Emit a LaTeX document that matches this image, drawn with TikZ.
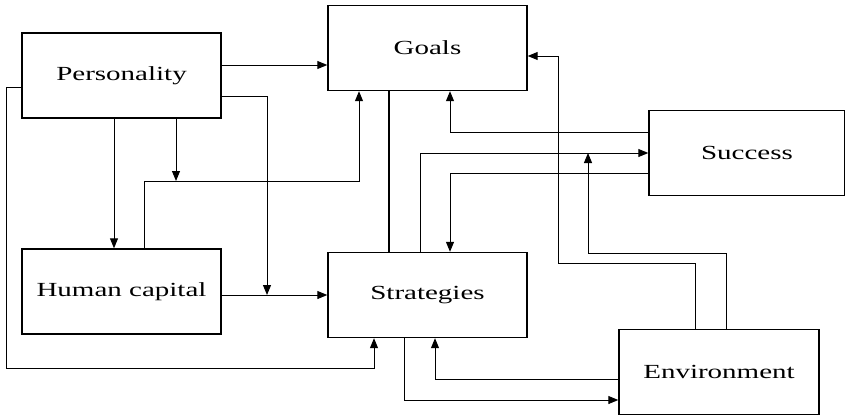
\documentclass[tikz,border=0pt]{standalone}
\usepackage{fontspec}
\setmainfont{Liberation Serif}[FakeStretch=1.45]
\usetikzlibrary{arrows.meta, positioning, calc}

\begin{document}
\begin{tikzpicture}[
  x=1pt, y=-1pt,
  box/.style={draw, line width=1.4pt, minimum width=199pt, minimum height=85pt,
              inner sep=0pt, font=\fontsize{20}{24}\selectfont},
  arr/.style={-{Triangle[length=10pt,width=8pt]}, line width=1pt},
  link/.style={line width=1.8pt}
]
\useasboundingbox (0,0) rectangle (845,415);
\node[box] (pers) at (121.5,75.5) {Personality};
\node[box] (goals) at (427.5,48) {Goals};
\node[box, minimum width=196pt] (succ) at (747,153) {Success};
\node[box] (hcap) at (121.5,291.5) {Human capital};
\node[box] (strat) at (427.5,295) {Strategies};
\node[box, minimum width=200pt] (env) at (719,372) {Environment};
% junctions on other connectors
\coordinate (jhg) at (176,181);
\coordinate (jhs) at (267,295);
\coordinate (jss) at (588,153);
% personality
\draw[arr] (pers.east |- 0,65) -- (goals.west |- 0,65);
\draw[arr] (pers.west |- 0,87) -- (6,87) -- (6,368) -| (strat.south -| 374,0);
\draw[arr] (pers.south -| 114,0) -- (hcap.north -| 114,0);
\draw[arr] (pers.south -| jhg) -- (jhg);
\draw[arr] (pers.east |- 0,96) -| (jhs);
% human capital
\draw[arr] (hcap.north -| 144,0) |- (359,181) -- (goals.south -| 359,0);
\draw[arr] (hcap.east |- strat.west) -- (strat.west);
% goals, strategies, success
\draw[link] (goals.south -| 389,0) -- (strat.north -| 389,0);
\draw[arr] (strat.north -| 420,0) |- (succ.west);
\draw[arr] (succ.west |- 0,173) -| (strat.north -| 450,0);
\draw[arr] (succ.west |- 0,132) -| (goals.south -| 450,0);
% environment
\draw[arr] (env.north -| 695,0) |- (558,263) |- (goals.east |- 0,56);
\draw[arr] (env.north -| 726,0) |- (588,253) -- (jss);
\draw[arr] (env.west |- 0,379) -| (strat.south -| 435,0);
\draw[arr] (strat.south -| 404,0) |- (env.west |- 0,400);
\end{tikzpicture}
\end{document}
